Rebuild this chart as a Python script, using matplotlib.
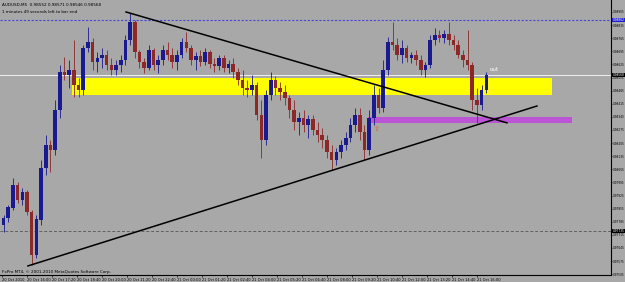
import numpy as np
import matplotlib.pyplot as plt

# -----------------------------
# Datos (AUDUSD, velas de 15 min dibujadas sobre el eje de barras M5)
# -----------------------------

opens = [0.97768, 0.97805, 0.97859, 0.97981, 0.97901, 0.97944, 0.97837, 0.97608, 0.97795, 0.98072,
         0.98195, 0.98168, 0.98382, 0.98585, 0.98569, 0.98595, 0.98515, 0.98488, 0.98713, 0.98745,
         0.98638, 0.98659, 0.98675, 0.98622, 0.98595, 0.98622, 0.98649, 0.98755, 0.98852, 0.98691,
         0.98638, 0.98606, 0.98702, 0.98622, 0.98649, 0.98702, 0.98675, 0.98638, 0.98675, 0.98745,
         0.98713, 0.98649, 0.98670, 0.98638, 0.98691, 0.98627, 0.98617, 0.98659, 0.98606, 0.98627,
         0.98585, 0.98542, 0.98499, 0.98488, 0.98515, 0.98355, 0.98221, 0.98462, 0.98542, 0.98499,
         0.98478, 0.98446, 0.98382, 0.98318, 0.98339, 0.98302, 0.98329, 0.98275, 0.98248, 0.98221,
         0.98157, 0.98115, 0.98157, 0.98195, 0.98232, 0.98302, 0.98355, 0.98264, 0.98168, 0.98339,
         0.98462, 0.98392, 0.98595, 0.98745, 0.98729, 0.98675, 0.98713, 0.98659, 0.98675, 0.98649,
         0.98595, 0.98622, 0.98755, 0.98782, 0.98766, 0.98787, 0.98755, 0.98729, 0.98675, 0.98649,
         0.98622, 0.98435, 0.98408, 0.98488]
highs = [0.97821, 0.97875, 0.98019, 0.97997, 0.97965, 0.97954, 0.97848, 0.97821, 0.98115, 0.98248,
         0.98221, 0.98435, 0.98622, 0.98665, 0.98649, 0.98755, 0.98553, 0.98729, 0.98825, 0.98766,
         0.98691, 0.98713, 0.98702, 0.98659, 0.98649, 0.98675, 0.98782, 0.98900, 0.98862, 0.98702,
         0.98659, 0.98729, 0.98713, 0.98675, 0.98729, 0.98745, 0.98713, 0.98702, 0.98766, 0.98798,
         0.98729, 0.98691, 0.98702, 0.98713, 0.98702, 0.98659, 0.98675, 0.98675, 0.98649, 0.98659,
         0.98606, 0.98595, 0.98542, 0.98569, 0.98531, 0.98435, 0.98488, 0.98585, 0.98563, 0.98531,
         0.98515, 0.98462, 0.98435, 0.98371, 0.98382, 0.98355, 0.98355, 0.98318, 0.98286, 0.98248,
         0.98195, 0.98179, 0.98221, 0.98264, 0.98339, 0.98392, 0.98392, 0.98302, 0.98382, 0.98515,
         0.98499, 0.98649, 0.98771, 0.98852, 0.98766, 0.98755, 0.98729, 0.98691, 0.98702, 0.98675,
         0.98638, 0.98782, 0.98820, 0.98809, 0.98809, 0.98852, 0.98782, 0.98755, 0.98702, 0.98809,
         0.98638, 0.98499, 0.98515, 0.98585]
lows = [0.97730, 0.97784, 0.97848, 0.97885, 0.97875, 0.97821, 0.97554, 0.97592, 0.97768, 0.98035,
        0.98051, 0.98141, 0.98339, 0.98542, 0.98499, 0.98451, 0.98451, 0.98462, 0.98691, 0.98595,
        0.98585, 0.98606, 0.98595, 0.98569, 0.98569, 0.98585, 0.98622, 0.98729, 0.98659, 0.98606,
        0.98579, 0.98595, 0.98595, 0.98579, 0.98622, 0.98649, 0.98606, 0.98595, 0.98659, 0.98691,
        0.98622, 0.98595, 0.98617, 0.98622, 0.98606, 0.98585, 0.98595, 0.98585, 0.98579, 0.98553,
        0.98515, 0.98462, 0.98451, 0.98462, 0.98329, 0.98125, 0.98195, 0.98435, 0.98462, 0.98435,
        0.98408, 0.98339, 0.98275, 0.98248, 0.98264, 0.98232, 0.98248, 0.98211, 0.98179, 0.98125,
        0.98061, 0.98088, 0.98125, 0.98168, 0.98211, 0.98264, 0.98221, 0.98115, 0.98141, 0.98302,
        0.98366, 0.98371, 0.98569, 0.98702, 0.98649, 0.98633, 0.98638, 0.98633, 0.98622, 0.98569,
        0.98558, 0.98606, 0.98729, 0.98745, 0.98739, 0.98729, 0.98702, 0.98659, 0.98611, 0.98595,
        0.98382, 0.98313, 0.98382, 0.98472]
closes = [0.97805, 0.97859, 0.97981, 0.97901, 0.97944, 0.97837, 0.97608, 0.97795, 0.98072, 0.98195,
          0.98168, 0.98382, 0.98585, 0.98569, 0.98595, 0.98515, 0.98488, 0.98713, 0.98745, 0.98638,
          0.98659, 0.98675, 0.98622, 0.98595, 0.98622, 0.98649, 0.98755, 0.98852, 0.98691, 0.98638,
          0.98606, 0.98702, 0.98622, 0.98649, 0.98702, 0.98675, 0.98638, 0.98675, 0.98745, 0.98713,
          0.98649, 0.98670, 0.98638, 0.98691, 0.98627, 0.98617, 0.98659, 0.98606, 0.98627, 0.98585,
          0.98542, 0.98499, 0.98488, 0.98515, 0.98355, 0.98221, 0.98462, 0.98542, 0.98499, 0.98478,
          0.98446, 0.98382, 0.98318, 0.98339, 0.98302, 0.98329, 0.98275, 0.98248, 0.98221, 0.98157,
          0.98115, 0.98157, 0.98195, 0.98232, 0.98302, 0.98355, 0.98264, 0.98168, 0.98339, 0.98462,
          0.98392, 0.98595, 0.98745, 0.98729, 0.98675, 0.98713, 0.98659, 0.98675, 0.98649, 0.98595,
          0.98622, 0.98755, 0.98782, 0.98766, 0.98787, 0.98755, 0.98729, 0.98675, 0.98649, 0.98622,
          0.98435, 0.98408, 0.98488, 0.98569]

# indice de barra M5 (centro de cada vela)
bar_index = [3 * k + 1 for k in range(len(closes))]

time_ticks = list(range(0, 305, 16))
time_labels = ['20 Oct 2010', '20 Oct 16:00', '20 Oct 17:20', '20 Oct 18:40', '20 Oct 20:00',
               '20 Oct 21:20', '20 Oct 22:40', '21 Oct 00:00', '21 Oct 01:20', '21 Oct 02:40',
               '21 Oct 04:00', '21 Oct 05:20', '21 Oct 06:40', '21 Oct 08:00', '21 Oct 09:20',
               '21 Oct 10:40', '21 Oct 12:00', '21 Oct 13:20', '21 Oct 14:40', '21 Oct 16:00']

price_ticks = [0.98905, 0.98835, 0.98765, 0.98695, 0.98625, 0.98555, 0.98485, 0.98415, 0.98345,
               0.98275, 0.98205, 0.98135, 0.98065, 0.97995, 0.97925, 0.97855, 0.97785, 0.97715,
               0.97645, 0.97575, 0.97505]

# zonas y lineas dibujadas
yellow_zone = (45, 352, 0.98462, 0.98553)
purple_zone = (234, 365, 0.98313, 0.98344)
trend_down = ([79.4, 323.2], [0.98905, 0.98313])
trend_up = ([16.6, 342.4], [0.97549, 0.98403])
ask_level = 0.98862
bid_level = 0.98568
low_level = 0.97735

# -----------------------------
# Figura
# -----------------------------

bg = '#a8a8a8'
fig = plt.figure(figsize=(6.25, 2.82), dpi=100)
fig.patch.set_facecolor(bg)
ax = fig.add_axes([0.0, 0.0248, 0.9776, 0.9752])
ax.set_facecolor(bg)

ax.fill_between([yellow_zone[0], yellow_zone[1]], yellow_zone[2], yellow_zone[3],
                color='#ffff00', lw=0, zorder=1)
ax.fill_between([purple_zone[0], purple_zone[1]], purple_zone[2], purple_zone[3],
                color='#bb55d6', lw=0, zorder=1)

ax.axhline(ask_level, color='#4848d8', lw=0.8, ls=(0, (2, 1.5)), zorder=2)
ax.axhline(bid_level, color='#f0f0f0', lw=0.7, zorder=2)
ax.axhline(low_level, color='#606060', lw=0.7, ls=(0, (3, 2)), zorder=2)

o = np.array(opens)
c = np.array(closes)
up = c >= o
colors = np.where(up, '#1a1a90', '#8c2828')
ax.vlines(bar_index, lows, highs, colors=colors, lw=0.6, zorder=3)
ax.bar(bar_index, np.abs(c - o) + 0.00002, bottom=np.minimum(o, c), width=2.3,
       color=colors, lw=0, zorder=4)

ax.plot(trend_down[0], trend_down[1], color='black', lw=1.1, zorder=5)
ax.plot(trend_up[0], trend_up[1], color='black', lw=1.1, zorder=5)

ax.text(312, 0.98590, 'out', color='white', fontsize=4, zorder=6)
ax.text(240, 0.98280, '\u21e7', color='#e05a3a', fontsize=5, ha='center', va='center', zorder=6)

ax.set_xlim(-1.28, 389.8)
ax.set_ylim(0.975005, 0.98969)

ax.yaxis.tick_right()
ax.set_yticks(price_ticks)
ax.set_yticklabels([f'{p:.5f}' for p in price_ticks])
ax.tick_params(axis='y', labelsize=2.1, length=1, width=0.5, pad=0.5, colors='black')
ax.set_xticks(time_ticks)
ax.set_xticklabels(time_labels, ha='left')
ax.tick_params(axis='x', labelsize=2.6, length=1.5, width=0.5, pad=0.3, colors='black')

for side in ['top', 'left']:
    ax.spines[side].set_visible(False)
ax.spines['right'].set_linewidth(0.8)
ax.spines['bottom'].set_linewidth(0.8)

# etiquetas resaltadas en el eje de precios
for lvl, fc, tc in [(ask_level, '#2020d0', 'white'), (bid_level, 'black', 'white'),
                    (low_level, 'black', 'white')]:
    ax.text(1.0025, lvl, f'{lvl:.5f}', transform=ax.get_yaxis_transform(), fontsize=2.1,
            color=tc, va='center', ha='left', zorder=7, clip_on=False,
            bbox=dict(boxstyle='square,pad=0.1', fc=fc, ec='none'))

ax.text(0.003, 0.99, 'AUDUSD,M5  0.98552 0.98571 0.98546 0.98568', transform=ax.transAxes,
        fontsize=3, va='top')
ax.text(0.003, 0.965, '1 minutes 49 seconds left to bar end', transform=ax.transAxes,
        fontsize=3, va='top')
ax.text(0.003, 0.005, 'FxPro MT4, \u00a9 2001-2010 MetaQuotes Software Corp.', transform=ax.transAxes,
        fontsize=3, va='bottom')

fig.savefig('out.png', dpi=100, facecolor=bg)
